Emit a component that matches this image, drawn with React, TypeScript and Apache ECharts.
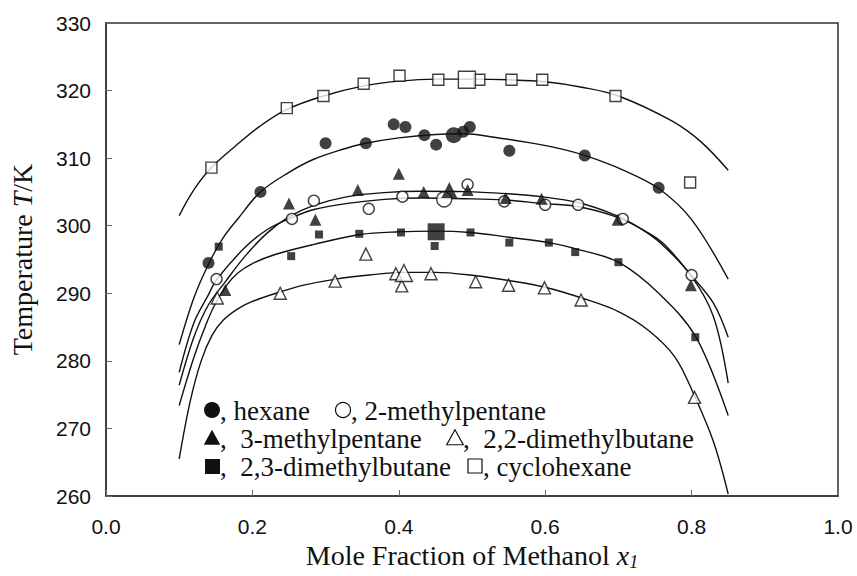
import React, { useEffect, useRef } from "react";
import * as echarts from "echarts";

// ---- data ----
const xTicks = [0, 0.2, 0.4, 0.6, 0.8, 1.0];
const yTicks = [260, 270, 280, 290, 300, 310, 320, 330];

const hexanePts = [[0.140,294.5],[0.211,305.0],[0.300,312.2],[0.355,312.2],[0.393,315.0],[0.409,314.6],[0.435,313.4],[0.451,312.0],[0.488,313.9],[0.497,314.6],[0.551,311.1],[0.654,310.4],[0.755,305.6]];
const hexaneBig = [[0.475,313.4]];
const mp2Pts = [[0.151,292.1],[0.254,301.0],[0.284,303.7],[0.359,302.5],[0.405,304.3],[0.494,306.1],[0.544,303.6],[0.600,303.1],[0.645,303.1],[0.706,301.0],[0.800,292.7]];
const mp2Big = [[0.462,303.9]];
const mp3Pts = [[0.163,290.5],[0.250,303.3],[0.286,300.9],[0.344,305.3],[0.400,307.7],[0.434,305.0],[0.494,305.3],[0.546,304.1],[0.595,304.0],[0.699,300.9],[0.799,291.2]];
const mp3Big = [[0.469,305.3]];
const dmb23Pts = [[0.154,296.9],[0.253,295.5],[0.291,298.7],[0.346,298.8],[0.403,299.0],[0.449,297.0],[0.498,299.0],[0.551,297.5],[0.605,297.5],[0.641,296.1],[0.700,294.6],[0.805,283.5]];
const dmb23Big = [[0.451,299.1]];
const dmb22Pts = [[0.152,289.3],[0.238,290.0],[0.313,291.8],[0.355,295.8],[0.396,292.9],[0.404,291.1],[0.444,292.9],[0.505,291.7],[0.550,291.2],[0.599,290.8],[0.649,289.0],[0.804,274.6]];
const dmb22Big = [[0.407,293.0]];
const cyclohexanePts = [[0.144,308.6],[0.247,317.4],[0.297,319.2],[0.352,321.0],[0.401,322.2],[0.454,321.6],[0.510,321.6],[0.554,321.6],[0.596,321.6],[0.696,319.2],[0.798,306.4]];
const cyclohexaneBig = [[0.493,321.6]];

// fitted curves
const cyclohexaneCurve = [[0.10,301.5],[0.12,305.3],[0.144,308.6],[0.178,311.9],[0.21,314.7],[0.247,317.2],[0.297,319.2],[0.352,320.7],[0.40,321.4],[0.45,321.7],[0.50,321.7],[0.55,321.6],[0.60,321.3],[0.65,320.5],[0.70,319.2],[0.773,315.5],[0.814,312.3],[0.85,308.2]];
const hexaneCurve = [[0.10,282.4],[0.12,289.3],[0.14,294.3],[0.16,298.2],[0.18,301.0],[0.211,305.0],[0.25,307.9],[0.283,309.8],[0.32,311.2],[0.355,312.2],[0.40,313.0],[0.45,313.5],[0.49,313.6],[0.53,313.1],[0.578,312.3],[0.62,311.4],[0.654,310.4],[0.705,308.3],[0.755,305.5],[0.80,300.9],[0.85,292.1]];
const mp3Curve = [[0.10,276.4],[0.12,283.5],[0.14,288.3],[0.163,291.7],[0.19,295.5],[0.22,298.9],[0.25,301.3],[0.284,303.0],[0.33,304.3],[0.38,304.9],[0.43,305.1],[0.49,305.05],[0.546,304.75],[0.595,304.3],[0.646,303.4],[0.695,301.6],[0.73,299.6],[0.76,297.2],[0.80,292.5],[0.83,286.5],[0.85,276.7]];
const mp2Curve = [[0.10,278.3],[0.12,285.6],[0.14,289.8],[0.151,292.0],[0.19,296.8],[0.22,299.4],[0.254,301.2],[0.284,302.4],[0.33,303.3],[0.38,303.9],[0.43,304.1],[0.49,304.0],[0.544,303.8],[0.595,303.3],[0.646,302.8],[0.70,301.2],[0.73,299.6],[0.76,297.5],[0.80,292.6],[0.83,288.5],[0.85,283.5]];
const dmb23Curve = [[0.10,273.4],[0.12,280.5],[0.137,285.5],[0.15,288.6],[0.165,291.2],[0.18,293.0],[0.20,294.4],[0.23,295.7],[0.283,297.2],[0.347,298.7],[0.40,299.1],[0.45,299.2],[0.498,299.0],[0.55,298.3],[0.605,297.5],[0.641,296.6],[0.70,294.6],[0.755,290.0],[0.806,283.5],[0.85,271.9]];
const dmb22Curve = [[0.10,265.5],[0.115,274.0],[0.13,280.0],[0.145,283.8],[0.16,286.0],[0.18,287.7],[0.20,288.8],[0.238,290.2],[0.27,291.2],[0.314,292.1],[0.36,292.7],[0.405,293.1],[0.45,293.1],[0.505,292.6],[0.55,291.9],[0.60,290.9],[0.65,289.3],[0.70,287.3],[0.74,284.6],[0.777,280.6],[0.804,274.8],[0.83,268.0],[0.85,260.3]];

const legendLabels = [
  ", hexane",
  ", 2-methylpentane",
  ",  3-methylpentane",
  ",  2,2-dimethylbutane",
  ",  2,3-dimethylbutane",
  ", cyclohexane",
];

const BLACK = "#111";
const SERIF = "Liberation Serif";
const SANS = "Liberation Sans";

function curve(data: number[][]) {
  return {
    type: "line",
    data,
    smooth: 0.35,
    showSymbol: false,
    symbol: "none",
    silent: true,
    z: 1,
    lineStyle: { color: BLACK, width: 1.4 },
  };
}

function pts(data: number[][], symbol: string, size: number, filled: boolean) {
  return {
    type: "scatter",
    data,
    symbol,
    symbolSize: size,
    z: 3,
    itemStyle: filled
      ? { color: BLACK, borderColor: BLACK, borderWidth: 0 }
      : { color: "#fff", borderColor: BLACK, borderWidth: 1.4 },
  };
}

function legendTitle(left: number, centerY: number, text: string) {
  return {
    text,
    left,
    top: centerY - 12.5,
    padding: 0,
    itemGap: 0,
    textStyle: {
      fontFamily: SERIF,
      fontSize: 27,
      fontWeight: "normal",
      color: BLACK,
      lineHeight: 25,
    },
  };
}

export default function App() {
  const ref = useRef<HTMLDivElement>(null);
  useEffect(() => {
    if (!ref.current) return;
    const chart = echarts.init(ref.current, null, { renderer: "svg" });
    const tri = (cx: number, cy: number, s: number) => [
      [cx, cy - s * 0.55],
      [cx + s * 0.55, cy + s * 0.45],
      [cx - s * 0.55, cy + s * 0.45],
    ];
    chart.setOption({
      animation: false,
      backgroundColor: "#fff",
      title: [
        legendTitle(220, 411, legendLabels[0]),
        legendTitle(351, 411, legendLabels[1]),
        legendTitle(220, 439, legendLabels[2]),
        legendTitle(463, 439, legendLabels[3]),
        legendTitle(220, 467, legendLabels[4]),
        legendTitle(483, 467, legendLabels[5]),
      ],
      grid: {
        left: 103,
        right: 19,
        top: 23,
        bottom: 80,
        show: true,
        borderColor: "#333",
        borderWidth: 1.5,
      },
      xAxis: {
        type: "value",
        min: xTicks[0],
        max: xTicks[xTicks.length - 1],
        interval: 0.2,
        splitLine: { show: false },
        axisLine: { show: true, lineStyle: { color: "#333", width: 1.5 } },
        axisTick: { show: true, inside: true, length: 6, lineStyle: { color: "#666" } },
        axisLabel: {
          margin: 20,
          fontFamily: SANS,
          fontSize: 21,
          color: BLACK,
          formatter: (v: number) => v.toFixed(1),
        },
        name: "{a|Mole Fraction of Methanol }{i|x}{s|1}",
        nameLocation: "middle",
        nameGap: 44,
        nameTextStyle: {
          rich: {
            a: { fontFamily: SERIF, fontSize: 28, color: BLACK },
            i: { fontFamily: SERIF, fontSize: 28, fontStyle: "italic", color: BLACK },
            s: { fontFamily: SERIF, fontSize: 18, fontStyle: "italic", color: BLACK, padding: [12, 0, 0, 0] },
          },
        },
      },
      yAxis: {
        type: "value",
        min: yTicks[0],
        max: yTicks[yTicks.length - 1],
        interval: 10,
        splitLine: { show: false },
        axisLine: { show: true, lineStyle: { color: "#333", width: 1.5 } },
        axisTick: { show: true, inside: true, length: 6, lineStyle: { color: "#666" } },
        axisLabel: { margin: 15, fontFamily: SANS, fontSize: 21, color: BLACK },
        name: "{a|Temperature }{i|T}{a|/K}",
        nameLocation: "middle",
        nameGap: 70,
        nameTextStyle: {
          rich: {
            a: { fontFamily: SERIF, fontSize: 28, color: BLACK },
            i: { fontFamily: SERIF, fontSize: 28, fontStyle: "italic", color: BLACK },
          },
        },
      },
      series: [
        curve(cyclohexaneCurve),
        curve(hexaneCurve),
        curve(mp3Curve),
        curve(mp2Curve),
        curve(dmb23Curve),
        curve(dmb22Curve),
        pts(cyclohexanePts, "rect", 11, false),
        pts(cyclohexaneBig, "rect", 17, false),
        pts(hexanePts, "circle", 12, true),
        pts(hexaneBig, "circle", 16, true),
        pts(mp2Pts, "circle", 11, false),
        pts(mp2Big, "circle", 15, false),
        pts(mp3Pts, "triangle", 12, true),
        pts(mp3Big, "triangle", 16, true),
        pts(dmb23Pts, "rect", 8, true),
        pts(dmb23Big, "rect", 17, true),
        pts(dmb22Pts, "triangle", 12, false),
        pts(dmb22Big, "triangle", 17, false),
      ],
      graphic: [
        { type: "circle", shape: { cx: 212, cy: 410, r: 8 }, style: { fill: BLACK } },
        { type: "circle", shape: { cx: 343, cy: 410, r: 7.5 }, style: { fill: "#fff", stroke: BLACK, lineWidth: 1.2 } },
        { type: "polygon", shape: { points: tri(212, 438, 15) }, style: { fill: BLACK } },
        { type: "polygon", shape: { points: tri(455, 438, 15) }, style: { fill: "#fff", stroke: BLACK, lineWidth: 1.2 } },
        { type: "rect", shape: { x: 205, y: 459, width: 15, height: 15 }, style: { fill: BLACK } },
        { type: "rect", shape: { x: 468, y: 459, width: 14, height: 14 }, style: { fill: "#fff", stroke: BLACK, lineWidth: 1.2 } },
      ],
    });
    return () => chart.dispose();
  }, []);
  return <div ref={ref} style={{ position: "fixed", left: 0, top: 0, width: 857, height: 576 }} />;
}
